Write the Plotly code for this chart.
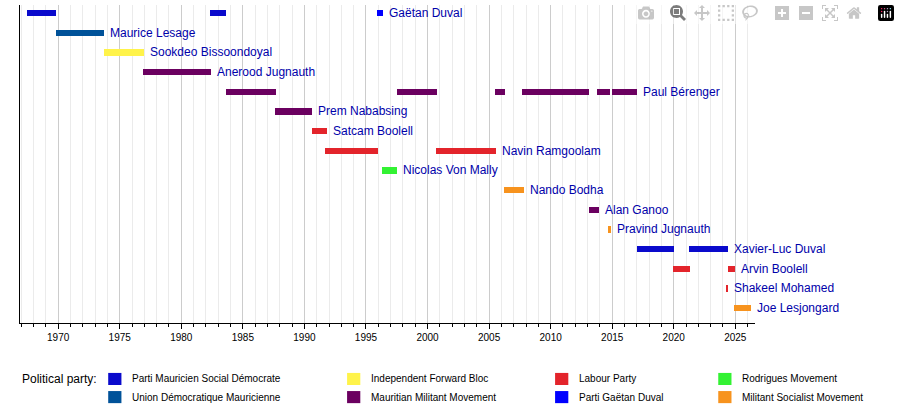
import plotly.graph_objects as go

# party colours
parties = ["Parti Mauricien Social Démocrate", "Union Démocratique Mauricienne",
           "Independent Forward Bloc", "Mauritian Militant Movement",
           "Labour Party", "Parti Gaëtan Duval",
           "Rodrigues Movement", "Militant Socialist Movement"]
party_colors = ["#0A0ACC", "#005299", "#FFF34A", "#6B0060",
                "#E3242B", "#0000FF", "#33F233", "#F7931E"]

leaders = ["Gaëtan Duval", "Maurice Lesage", "Sookdeo Bissoondoyal", "Anerood Jugnauth",
           "Paul Bérenger", "Prem Nababsing", "Satcam Boolell", "Navin Ramgoolam",
           "Nicolas Von Mally", "Nando Bodha", "Alan Ganoo", "Pravind Jugnauth",
           "Xavier-Luc Duval", "Arvin Boolell", "Shakeel Mohamed", "Joe Lesjongard"]

# terms: (leader index, start, end, party index)
term_leader = [0, 0, 0, 1, 2, 3, 4, 4, 4, 4, 4, 4, 5, 6, 7, 7, 8, 9, 10, 11, 12, 12, 13, 13, 14, 15]
term_start = [1967.5, 1982.3, 1995.9, 1969.8, 1973.7, 1976.9, 1983.6, 1997.5, 2005.5, 2007.7,
              2013.8, 2015.0, 1987.6, 1990.6, 1991.7, 2000.7, 1996.3, 2006.2, 2013.1, 2014.7,
              2017.0, 2021.2, 2019.9, 2024.4, 2024.3, 2024.9]
term_end = [1969.8, 1983.6, 1996.4, 1973.7, 1977.0, 1982.4, 1987.7, 2000.8, 2006.3, 2013.1,
            2014.8, 2017.0, 1990.6, 1991.8, 1996.0, 2005.6, 1997.5, 2007.8, 2013.9, 2014.9,
            2020.0, 2024.4, 2021.3, 2025.0, 2024.4, 2026.3]
term_party = [0, 0, 5, 1, 2, 3, 3, 3, 3, 3, 3, 3, 3, 4, 4, 4, 6, 7, 3, 7, 0, 0, 4, 4, 4, 7]

fig = go.Figure()
fig.add_trace(go.Bar(
    orientation="h",
    y=term_leader,
    base=term_start,
    x=[e - s for s, e in zip(term_start, term_end)],
    width=0.32,
    marker=dict(color=[party_colors[p] for p in term_party], line_width=0),
    hoverinfo="skip",
    showlegend=False,
))

# name labels after each leader's last term
for i, name in enumerate(leaders):
    last = max(e for l, e in zip(term_leader, term_end) if l == i)
    fig.add_annotation(x=last, y=i, text=name, showarrow=False, xanchor="left",
                       xshift=4, font=dict(size=12, color="#0000AA"))

# legend drawn underneath
fig.add_annotation(x=0, y=-0.176, xref="paper", yref="paper", text="Political party:",
                   showarrow=False, xanchor="left", yanchor="middle",
                   font=dict(size=12, color="#000"))
cols = [0.12, 0.445, 0.728, 0.95]
for k, (p, c) in enumerate(zip(parties, party_colors)):
    cx = cols[k // 2]
    cy = -0.176 if k % 2 == 0 else -0.233
    fig.add_shape(type="rect", xref="paper", yref="paper", x0=cx, x1=cx + 0.018,
                  y0=cy - 0.019, y1=cy + 0.019, fillcolor=c, line_width=0)
    fig.add_annotation(x=cx + 0.03, y=cy, xref="paper", yref="paper", text=p,
                       showarrow=False, xanchor="left", yanchor="middle",
                       font=dict(size=10, color="#000"))

fig.update_layout(
    width=900, height=405,
    margin=dict(l=20, r=145, t=5, b=82),
    plot_bgcolor="white", paper_bgcolor="white",
    font=dict(family="Liberation Sans, Arial, sans-serif"),
    bargap=0,
)
fig.update_xaxes(range=[1966.9, 2026.6], tick0=1970, dtick=5, showgrid=True,
                 gridcolor="#cccccc", ticks="outside", ticklen=5, tickcolor="#000",
                 showline=True, linecolor="#000", zeroline=False,
                 tickfont=dict(size=10, color="#000"),
                 minor=dict(dtick=1, showgrid=True, gridcolor="#ebebeb",
                            ticks="outside", ticklen=3, tickcolor="#000"))
fig.update_yaxes(range=[15.76, -0.41], showticklabels=False, showgrid=False,
                 showline=True, linecolor="#000", zeroline=False)

fig.write_html("out.html")

# drop the default page margin so the figure sits at the window's corner
with open("out.html", encoding="utf-8") as f:
    html = f.read()
html = html.replace("<body>", '<body style="margin:0">', 1)
with open("out.html", "w", encoding="utf-8") as f:
    f.write(html)
